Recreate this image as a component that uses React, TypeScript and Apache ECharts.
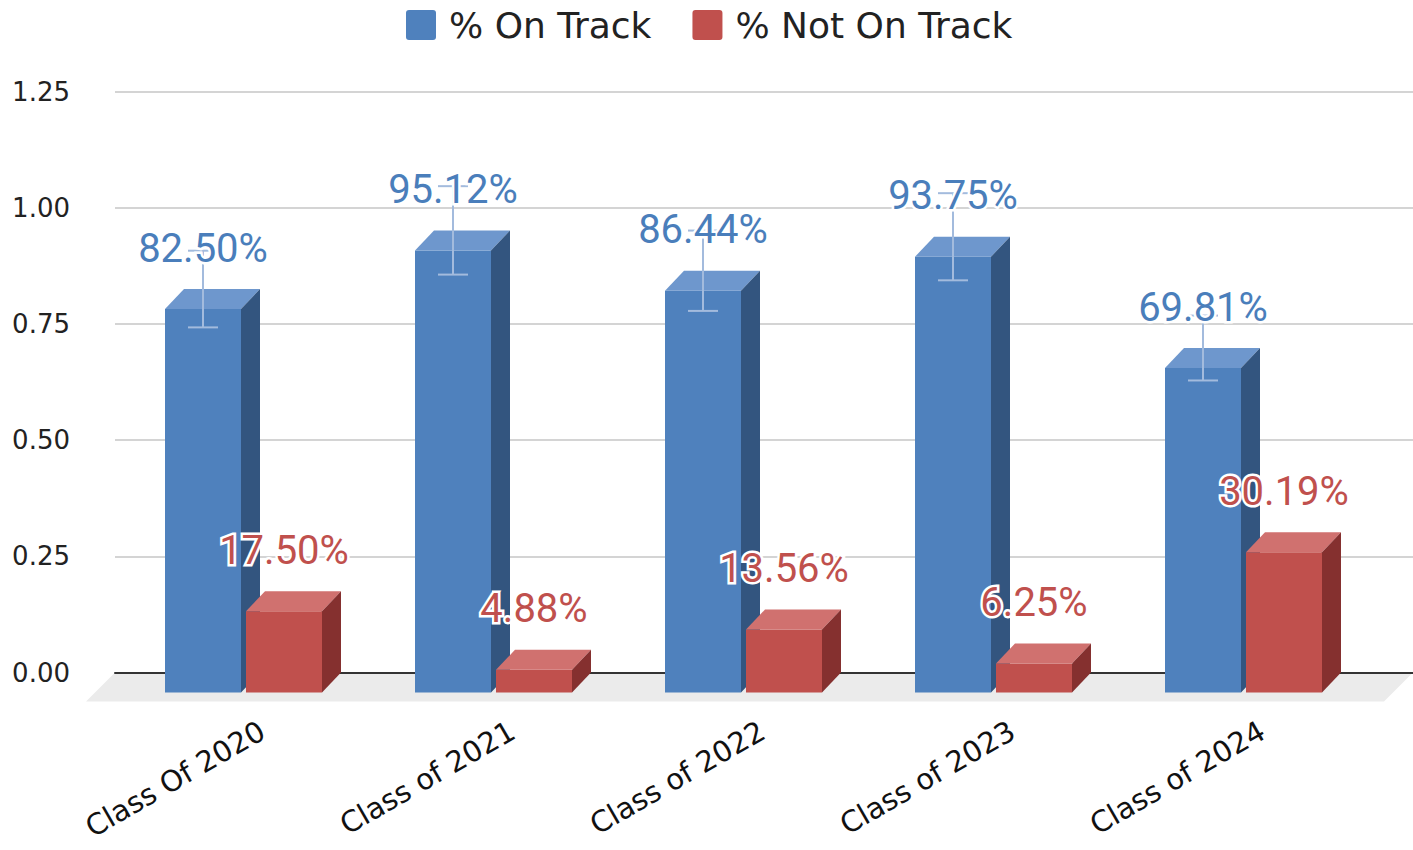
import React, { useEffect, useRef } from "react";
import * as echarts from "echarts";

const categories = ["Class Of 2020", "Class of 2021", "Class of 2022", "Class of 2023", "Class of 2024"];
const onTrack = [0.825, 0.9512, 0.8644, 0.9375, 0.6981];
const notOnTrack = [0.175, 0.0488, 0.1356, 0.0625, 0.3019];
const seriesNames = ["% On Track", "% Not On Track"];
const errorPct = 0.1;
const yMin = 0;
const yMax = 1.25;
const yInterval = 0.25;

const BLUE = { front: "#4f81bd", top: "#6e97cd", side: "#33557f", text: "#4a7ebb" };
const RED = { front: "#c0504d", top: "#d0716f", side: "#85302f", text: "#c0504d" };
const DX = 19;
const DY = 20;
const FLOOR = 29;

const fmt = (v: number) => (v * 100).toFixed(2) + "%";

function geom(api: any, side: number) {
  const i = api.value(0);
  const v = api.value(1);
  const top = api.coord([i, v]);
  const base = api.coord([i, 0]);
  const band = api.size([1, 0])[0];
  const w = band * 0.304;
  const gap = band * 0.02;
  const bl = side < 0 ? top[0] - gap / 2 - w : top[0] + gap / 2;
  const br = bl + w;
  return { i, v, top, base, w, bl, br, fl: bl - DX, fr: br - DX };
}

function barRender(side: number, c: any) {
  return (params: any, api: any) => {
    const g = geom(api, side);
    const yT = g.top[1];
    const yB = g.base[1];
    return {
      type: "group",
      children: [
        {
          type: "rect",
          shape: { x: g.fl, y: yT + DY, width: g.w, height: yB - yT },
          style: { fill: c.front },
        },
        {
          type: "polygon",
          shape: { points: [[g.fl, yT + DY], [g.fr, yT + DY], [g.br, yT], [g.bl, yT]] },
          style: { fill: c.top },
        },
        {
          type: "polygon",
          shape: { points: [[g.fr, yT + DY], [g.br, yT], [g.br, yB], [g.fr, yB + DY]] },
          style: { fill: c.side },
        },
      ],
    };
  };
}

function labelRender(side: number, c: any, withError: boolean) {
  return (params: any, api: any) => {
    const g = geom(api, side);
    const cx = (g.fl + g.fr) / 2;
    const children: any[] = [];
    if (withError) {
      const hi = api.coord([g.i, g.v * (1 + errorPct)])[1];
      const lo = api.coord([g.i, g.v * (1 - errorPct)])[1];
      const ls = { stroke: "#a3bbdd", lineWidth: 2 };
      children.push({ type: "line", shape: { x1: cx, y1: hi, x2: cx, y2: lo }, style: ls });
      children.push({ type: "line", shape: { x1: cx - 15, y1: hi, x2: cx + 15, y2: hi }, style: ls });
      children.push({ type: "line", shape: { x1: cx - 15, y1: lo, x2: cx + 15, y2: lo }, style: ls });
    }
    children.push({
      type: "text",
      x: cx,
      y: g.top[1] - 41,
      style: {
        text: fmt(g.v),
        fill: c.text,
        stroke: "#ffffff",
        lineWidth: 5,
        font: "40px Roboto",
        align: "center",
        verticalAlign: "middle",
      },
    });
    return { type: "group", children };
  };
}

export default function App() {
  const ref = useRef<HTMLDivElement>(null);
  useEffect(() => {
    document.body.style.margin = "0";
    const chart = echarts.init(ref.current as HTMLDivElement, null, { renderer: "svg" });
    const gridTop = 91.5;
    const gridH = 581;
    chart.setOption({
      animation: false,
      legend: {
        data: seriesNames,
        top: 2,
        left: 401,
        icon: "path://M3,0H27Q30,0 30,3V27Q30,30 27,30H3Q0,30 0,27V3Q0,0 3,0Z",
        itemWidth: 30,
        itemHeight: 30,
        itemGap: 41,
        textStyle: { fontFamily: "DejaVu Sans", fontSize: 36, color: "#222", padding: [0, 0, 0, 8] },
        selectedMode: false,
      },
      grid: [
        { left: 115, right: 0, top: gridTop, height: gridH, containLabel: false, outerBoundsMode: "none" },
        { left: 137.5, width: 1250, top: gridTop, height: gridH, containLabel: false, outerBoundsMode: "none" },
      ],
      xAxis: [
        {
          gridIndex: 0,
          type: "value",
          min: 0,
          max: 1,
          axisLabel: { show: false },
          axisTick: { show: false },
          splitLine: { show: false },
          axisLine: { show: true, lineStyle: { color: "#333", width: 2 } },
        },
        {
          gridIndex: 1,
          type: "category",
          data: categories,
          axisLine: { show: false },
          axisTick: { show: false },
          axisLabel: {
            interval: 0,
            rotate: 30,
            margin: 56,
            fontFamily: "DejaVu Sans",
            fontSize: 29,
            color: "#111",
          },
        },
      ],
      yAxis: [
        {
          gridIndex: 0,
          type: "value",
          min: yMin,
          max: yMax,
          interval: yInterval,
          axisLine: { show: false },
          axisTick: { show: false },
          axisLabel: {
            margin: 45,
            fontFamily: "DejaVu Sans",
            fontSize: 26,
            color: "#222",
            formatter: (v: number) => v.toFixed(2),
          },
          splitLine: { lineStyle: { color: "#d4d4d4", width: 2 } },
        },
        { gridIndex: 1, type: "value", min: yMin, max: yMax, interval: yInterval, show: false, splitLine: { show: false } },
      ],
      series: [
        {
          type: "custom",
          name: "floor",
          xAxisIndex: 0,
          yAxisIndex: 0,
          z: -1,
          silent: true,
          data: [[0, 0]],
          renderItem: (params: any, api: any) => {
            const a = api.coord([0, 0]);
            const b = api.coord([1, 0]);
            return {
              type: "polygon",
              shape: {
                points: [
                  [a[0], a[1]],
                  [b[0], b[1]],
                  [b[0] - FLOOR, b[1] + FLOOR],
                  [a[0] - FLOOR, a[1] + FLOOR],
                ],
              },
              style: { fill: "#ebebeb" },
            };
          },
        },
        {
          type: "custom",
          name: seriesNames[0],
          xAxisIndex: 1,
          yAxisIndex: 1,
          silent: true,
          itemStyle: { color: BLUE.front },
          data: onTrack.map((v, i) => [i, v]),
          renderItem: barRender(-1, BLUE),
        },
        {
          type: "custom",
          name: seriesNames[1],
          xAxisIndex: 1,
          yAxisIndex: 1,
          silent: true,
          itemStyle: { color: RED.front },
          data: notOnTrack.map((v, i) => [i, v]),
          renderItem: barRender(1, RED),
        },
        {
          type: "custom",
          name: "onLabels",
          xAxisIndex: 1,
          yAxisIndex: 1,
          z: 5,
          silent: true,
          data: onTrack.map((v, i) => [i, v]),
          renderItem: labelRender(-1, BLUE, true),
        },
        {
          type: "custom",
          name: "notLabels",
          xAxisIndex: 1,
          yAxisIndex: 1,
          z: 5,
          silent: true,
          data: notOnTrack.map((v, i) => [i, v]),
          renderItem: labelRender(1, RED, false),
        },
      ],
    });
    return () => chart.dispose();
  }, []);
  return <div ref={ref} style={{ width: 1413, height: 850 }} />;
}
